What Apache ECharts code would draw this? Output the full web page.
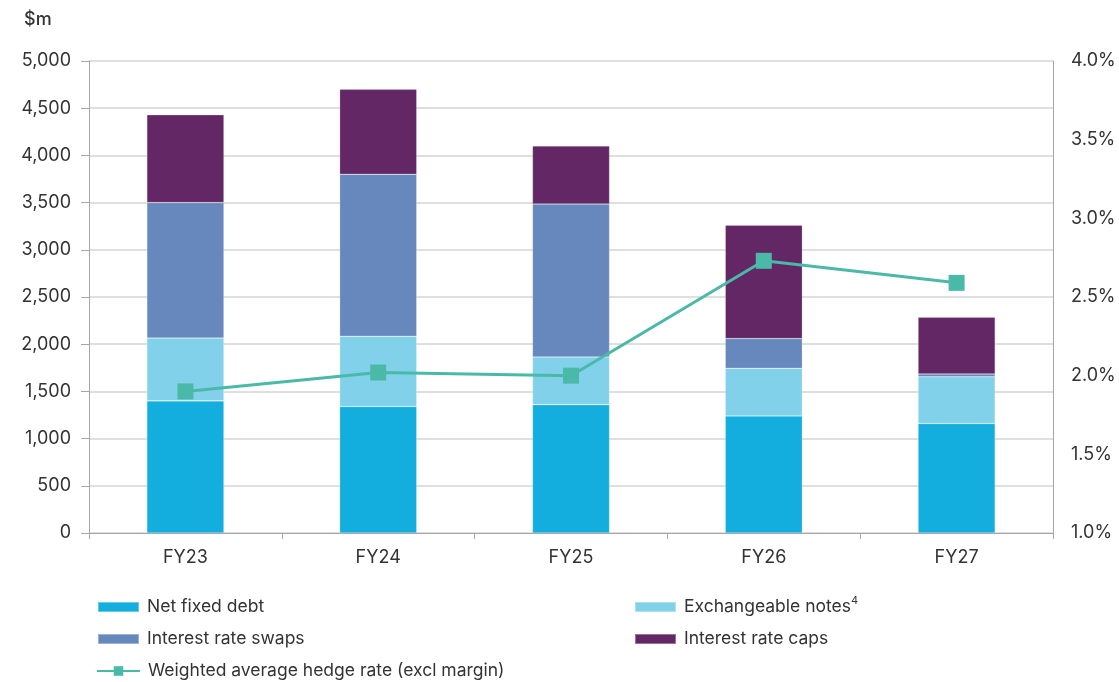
<!DOCTYPE html>
<html>
<head>
<meta charset="utf-8">
<script src="https://cdn.jsdelivr.net/npm/echarts@6/dist/echarts.min.js"></script>
<style>
  html, body { margin: 0; padding: 0; background: #ffffff; }
  #chart { width: 1119px; height: 682px; }
</style>
</head>
<body>
<div id="chart"></div>
<script>
// Hedge profile by financial year ($m stacked, rate on right axis)
const categories = ['FY23', 'FY24', 'FY25', 'FY26', 'FY27'];
const netFixedDebt = [1400, 1340, 1360, 1240, 1160];
const exchangeableNotes = [665, 745, 505, 505, 495];
const interestRateSwaps = [1435, 1715, 1620, 315, 30];
const interestRateCaps = [930, 900, 615, 1200, 600];
const hedgeRate = [1.90, 2.02, 2.00, 2.73, 2.59];

const leftTicks = { min: 0, max: 5000, interval: 500 };
const rightTicks = { min: 1.0, max: 4.0, interval: 0.5 };

const FONT = 'Inter, "Open Sans", sans-serif';
const TEXT = '#333333';
const LEGEND_SIZE = 17.5;
const AXIS_SIZE = 18;

const chart = echarts.init(document.getElementById('chart'));

function legendAt(name, left, top, extra) {
  return Object.assign({
    data: [name],
    left: left,
    top: top,
    icon: 'rect',
    itemWidth: 41,
    itemHeight: 10,
    itemGap: 6,
    padding: 0,
    textStyle: { fontFamily: FONT, fontSize: LEGEND_SIZE, color: TEXT, padding: [0, 0, 0, 3] }
  }, extra || {});
}

const barSeries = (name, data, color) => ({
  name: name,
  type: 'bar',
  stack: 'hedge',
  data: data,
  barWidth: '40%',
  itemStyle: { color: color, borderColor: 'rgba(255,255,255,0.35)', borderWidth: 0.6 },
  emphasis: { disabled: true }
});

chart.setOption({
  animation: false,
  backgroundColor: '#ffffff',
  grid: { left: 89, right: 66, top: 61, bottom: 149 },
  title: {
    text: '$m',
    left: 19,
    top: 6,
    textStyle: { fontFamily: FONT, fontSize: 18, fontWeight: 500, color: TEXT }
  },
  legend: [
    legendAt('Net fixed debt', 97, 598),
    legendAt('Exchangeable notes', 634, 595, {
      formatter: () => '{a|Exchangeable notes}{s|4}',
      textStyle: {
        fontFamily: FONT, fontSize: LEGEND_SIZE, color: TEXT, padding: [0, 0, 0, 3],
        rich: {
          a: { fontFamily: FONT, fontSize: LEGEND_SIZE, color: TEXT, lineHeight: 24 },
          s: { fontFamily: FONT, fontSize: 11, color: TEXT, lineHeight: 12, verticalAlign: 'top', padding: [0, 0, 0, 0] }
        }
      }
    }),
    legendAt('Interest rate swaps', 97, 630),
    legendAt('Interest rate caps', 634, 630),
    {
      data: ['Weighted average hedge rate (excl margin)'],
      left: 96,
      top: 662,
      itemWidth: 43,
      itemHeight: 12,
      itemGap: 6,
      padding: 0,
      textStyle: { fontFamily: FONT, fontSize: LEGEND_SIZE, color: TEXT, padding: [0, 0, 0, 3] }
    }
  ],
  xAxis: {
    type: 'category',
    data: categories,
    axisLine: { lineStyle: { color: '#a6a6a6', width: 1 } },
    axisTick: { show: true, length: 6, lineStyle: { color: '#a6a6a6' } },
    axisLabel: { fontFamily: FONT, fontSize: AXIS_SIZE, color: TEXT, margin: 16 }
  },
  yAxis: [
    {
      type: 'value',
      min: leftTicks.min,
      max: leftTicks.max,
      interval: leftTicks.interval,
      axisLine: { show: true, lineStyle: { color: '#a6a6a6' } },
      axisTick: { show: true, length: 8, lineStyle: { color: '#a6a6a6' } },
      axisLabel: {
        fontFamily: FONT, fontSize: AXIS_SIZE, color: TEXT, margin: 18,
        formatter: v => v.toLocaleString('en-US')
      },
      splitLine: { lineStyle: { color: '#d4d4d4', width: 1.5 } }
    },
    {
      type: 'value',
      min: rightTicks.min,
      max: rightTicks.max,
      interval: rightTicks.interval,
      position: 'right',
      axisLine: { show: true, lineStyle: { color: '#a6a6a6' } },
      axisTick: { show: false },
      axisLabel: {
        fontFamily: FONT, fontSize: AXIS_SIZE, color: TEXT, margin: 18,
        formatter: v => v.toFixed(1) + '%'
      },
      splitLine: { show: false }
    }
  ],
  series: [
    barSeries('Net fixed debt', netFixedDebt, '#14AEDE'),
    barSeries('Exchangeable notes', exchangeableNotes, '#82D1EA'),
    barSeries('Interest rate swaps', interestRateSwaps, '#6788BC'),
    barSeries('Interest rate caps', interestRateCaps, '#632765'),
    {
      name: 'Weighted average hedge rate (excl margin)',
      type: 'line',
      yAxisIndex: 1,
      data: hedgeRate,
      symbol: 'rect',
      symbolSize: 16,
      lineStyle: { color: '#4BB9A8', width: 3 },
      itemStyle: { color: '#4BB9A8' },
      emphasis: { disabled: true },
      z: 5
    }
  ]
});
</script>
</body>
</html>
